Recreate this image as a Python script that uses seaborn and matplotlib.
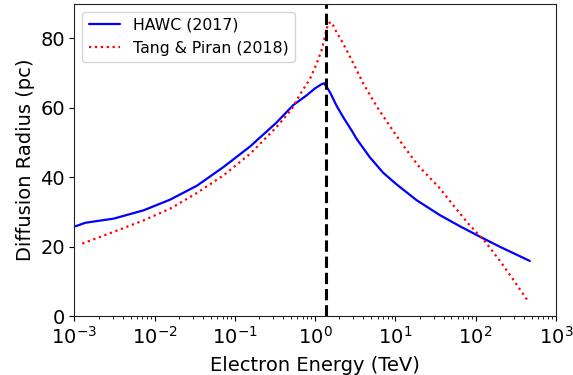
import matplotlib
matplotlib.use("Agg")
import matplotlib.pyplot as plt
import seaborn as sns
import pandas as pd

hawc_energy = [1.03e-3, 1.37e-3, 3.09e-3, 7.3e-3, 0.0157, 0.0337, 0.0724, 0.155, 0.331,
               0.533, 0.782, 0.993, 1.2, 1.3, 1.53, 1.85, 2.24, 2.85, 3.28, 4.79,
               7.05, 10.3, 18.4, 35.9, 63.7, 113, 200, 474]
hawc_radius = [25.9, 26.9, 28.1, 30.5, 33.6, 37.6, 43.0, 48.9, 55.8,
               60.8, 63.6, 65.6, 66.8, 67.1, 64.5, 60.6, 57.3, 53.5, 51.1, 45.8,
               41.3, 38.0, 33.4, 29.1, 25.9, 22.9, 20.0, 15.9]

tp_energy = [1.25e-3, 3.09e-3, 7.3e-3, 0.0157, 0.0337, 0.0724, 0.155, 0.331, 0.508,
             0.677, 0.86, 1.04, 1.2, 1.32, 1.45, 1.6, 1.85, 2.24, 2.85, 3.98,
             5.83, 8.5, 12.5, 19.2, 35.9, 52.5, 80.7, 130, 200, 295, 457]
tp_radius = [20.9, 24.3, 27.6, 31.0, 35.5, 40.6, 46.8, 54.5, 59.6,
             64.6, 68.3, 72.7, 76.5, 80.4, 84.4, 84.7, 81.8, 78.5, 73.8, 67.0,
             60.5, 54.8, 49.2, 43.4, 36.8, 32.0, 26.7, 21.6, 16.0, 10.5, 4.1]

break_energy = 1.37
series_labels = ["HAWC (2017)", "Tang & Piran (2018)"]

sns.set_style("ticks", {"text.color": "black", "axes.labelcolor": "black",
                        "xtick.color": "black", "ytick.color": "black",
                        "axes.edgecolor": "#222222"})
plt.rcParams['font.family'] = ['DejaVu Sans']

fig = plt.figure(figsize=(5.73, 3.75), dpi=100)
ax = fig.add_axes([0.130, 0.157, 0.840, 0.833])

df_h = pd.DataFrame({"E": hawc_energy, "R": hawc_radius})
df_t = pd.DataFrame({"E": tp_energy, "R": tp_radius})

sns.lineplot(data=df_h, x="E", y="R", ax=ax, color="blue", lw=1.6,
             label=series_labels[0], sort=False)
sns.lineplot(data=df_t, x="E", y="R", ax=ax, color="red", lw=1.6,
             linestyle=":", label=series_labels[1], sort=False)
ax.axvline(break_energy, color="black", ls="--", lw=2.2)

ax.set_xscale("log")
ax.set_xlim(1e-3, 1e3)
ax.set_ylim(0, 90)
ax.set_yticks([0, 20, 40, 60, 80])
ax.set_xlabel("Electron Energy (TeV)", fontsize=14, labelpad=6)
ax.set_ylabel("Diffusion Radius (pc)", fontsize=14)
ax.tick_params(axis="both", labelsize=14, colors="black")
leg = ax.legend(loc="upper left", fontsize=11.3, frameon=True)
for t in leg.get_texts():
    t.set_color("black")

fig.savefig("out.png", dpi=100)
